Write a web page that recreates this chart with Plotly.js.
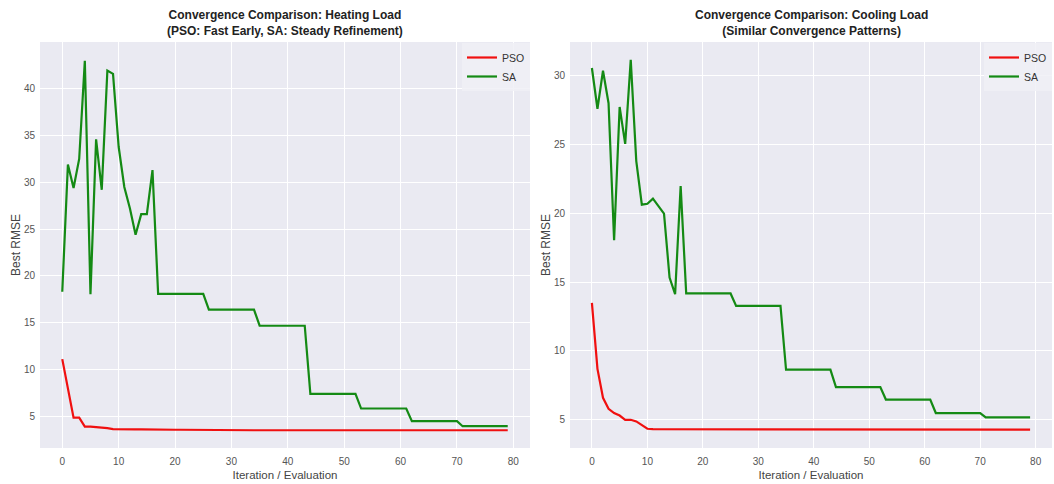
<!DOCTYPE html>
<html>
<head>
<meta charset="utf-8">
<script src="https://cdn.plot.ly/plotly-3.0.1.min.js"></script>
<style>html,body{margin:0;padding:0;background:#fff;}#chart{width:1054px;height:484px;}</style>
</head>
<body>
<div id="chart"></div>
<script>
// ---- data ----
const iterations = Array.from({length: 80}, (_, i) => i);

const heatPSO = [11.1, 8.1, 4.85, 4.85, 3.88, 3.88, 3.85, 3.75, 3.72, 3.62,
  3.6, 3.6, 3.6, 3.6, 3.6, 3.58, 3.58, 3.57, 3.57, 3.56,
  3.55, 3.55, 3.54, 3.53, 3.52, 3.51, 3.5, 3.5, 3.5, 3.5,
  3.5, 3.5, 3.5, 3.5, 3.5, 3.5, 3.5, 3.5, 3.5, 3.5,
  3.5, 3.5, 3.5, 3.5, 3.5, 3.5, 3.5, 3.5, 3.5, 3.5,
  3.5, 3.5, 3.5, 3.5, 3.5, 3.5, 3.5, 3.5, 3.5, 3.5,
  3.5, 3.5, 3.5, 3.5, 3.5, 3.5, 3.5, 3.5, 3.5, 3.5,
  3.5, 3.5, 3.5, 3.5, 3.5, 3.5, 3.5, 3.5, 3.5, 3.5];

const heatSA = [18.3, 31.9, 29.4, 32.5, 43.0, 18.05, 34.6, 29.2, 41.95, 41.6,
  33.8, 29.5, 27.2, 24.4, 26.6, 26.6, 31.3, 18.08, 18.08, 18.08,
  18.08, 18.08, 18.08, 18.08, 18.08, 18.08, 16.4, 16.4, 16.4, 16.4,
  16.4, 16.4, 16.4, 16.4, 16.4, 14.67, 14.67, 14.67, 14.67, 14.67,
  14.67, 14.67, 14.67, 14.67, 7.39, 7.39, 7.39, 7.39, 7.39, 7.39,
  7.39, 7.39, 7.39, 5.82, 5.82, 5.82, 5.82, 5.82, 5.82, 5.82,
  5.82, 5.82, 4.47, 4.47, 4.47, 4.47, 4.47, 4.47, 4.47, 4.47,
  4.47, 3.93, 3.93, 3.93, 3.93, 3.93, 3.93, 3.93, 3.93, 3.93];

const coolPSO = [13.5, 8.7, 6.6, 5.8, 5.49, 5.31, 5.0, 5.0, 4.88, 4.59,
  4.35, 4.32, 4.32, 4.31, 4.31, 4.31, 4.3, 4.3, 4.3, 4.3,
  4.29, 4.29, 4.29, 4.29, 4.28, 4.28, 4.28, 4.28, 4.28, 4.28,
  4.28, 4.28, 4.28, 4.28, 4.28, 4.28, 4.28, 4.28, 4.28, 4.28,
  4.28, 4.28, 4.28, 4.28, 4.28, 4.28, 4.28, 4.28, 4.28, 4.28,
  4.28, 4.28, 4.28, 4.28, 4.28, 4.28, 4.28, 4.28, 4.28, 4.28,
  4.28, 4.28, 4.28, 4.28, 4.28, 4.28, 4.28, 4.28, 4.28, 4.28,
  4.28, 4.28, 4.28, 4.28, 4.28, 4.28, 4.28, 4.28, 4.28, 4.28];

const coolSA = [30.56, 27.6, 30.36, 28.0, 18.04, 27.73, 25.05, 31.16, 23.8, 20.63,
  20.7, 21.07, 20.53, 19.98, 15.34, 14.13, 21.98, 14.18, 14.18, 14.18,
  14.18, 14.18, 14.18, 14.18, 14.18, 14.18, 13.28, 13.28, 13.28, 13.28,
  13.28, 13.28, 13.28, 13.28, 13.28, 8.64, 8.64, 8.64, 8.64, 8.64,
  8.64, 8.64, 8.64, 8.64, 7.37, 7.37, 7.37, 7.37, 7.37, 7.37,
  7.37, 7.37, 7.37, 6.47, 6.47, 6.47, 6.47, 6.47, 6.47, 6.47,
  6.47, 6.47, 5.49, 5.49, 5.49, 5.49, 5.49, 5.49, 5.49, 5.49,
  5.49, 5.17, 5.17, 5.17, 5.17, 5.17, 5.17, 5.17, 5.17, 5.17];

const xTicks = [0, 10, 20, 30, 40, 50, 60, 70, 80];
const heatYTicks = [5, 10, 15, 20, 25, 30, 35, 40];
const coolYTicks = [5, 10, 15, 20, 25, 30];
const titles = [
  'Convergence Comparison: Heating Load<br>(PSO: Fast Early, SA: Steady Refinement)',
  'Convergence Comparison: Cooling Load<br>(Similar Convergence Patterns)'
];

// ---- figure ----
const W = 1054, H = 484;
const FONT = 'Liberation Sans, Arial, sans-serif';
const RED = '#f01010', GREEN = '#148a14';

function line(x, y, name, color, xa, ya, leg) {
  return {x: x, y: y, name: name, type: 'scatter', mode: 'lines',
    line: {color: color, width: 2.2}, xaxis: xa, yaxis: ya, legend: leg};
}

const traces = [
  line(iterations, heatPSO, 'PSO', RED, 'x', 'y', 'legend'),
  line(iterations, heatSA, 'SA', GREEN, 'x', 'y', 'legend'),
  line(iterations, coolPSO, 'PSO', RED, 'x2', 'y2', 'legend2'),
  line(iterations, coolSA, 'SA', GREEN, 'x2', 'y2', 'legend2')
];

const yDom = [(H - 448) / H, (H - 42) / H];
function xAxis(dom) {
  return {domain: dom, range: [-3.95, 82.95], tickvals: xTicks,
    showgrid: true, gridcolor: '#ffffff', gridwidth: 1, zeroline: false,
    showline: false, ticks: '', ticklabelstandoff: 6,
    tickfont: {family: FONT, size: 10, color: '#555555'},
    title: {text: 'Iteration / Evaluation', standoff: 4, font: {family: FONT, size: 11.5, color: '#444444'}}};
}
function yAxis(anchor, range, ticks) {
  return {domain: yDom, range: range, tickvals: ticks, anchor: anchor,
    showgrid: true, gridcolor: '#ffffff', gridwidth: 1, zeroline: false,
    showline: false, ticks: '', ticklabelstandoff: 4,
    tickfont: {family: FONT, size: 10, color: '#555555'},
    title: {text: 'Best RMSE', standoff: 0, font: {family: FONT, size: 12, color: '#444444'}}};
}
function legend(xr) {
  return {x: xr / W, y: (H - 43) / H, xanchor: 'right', yanchor: 'top',
    bgcolor: 'rgba(240,240,246,0.85)', borderwidth: 0,
    font: {family: FONT, size: 10.5, color: '#333333'}, itemwidth: 30, tracegroupgap: 0};
}

const layout = {
  width: W, height: H,
  margin: {l: 0, r: 0, t: 0, b: 0},
  paper_bgcolor: '#ffffff', plot_bgcolor: '#EAEAF2',
  showlegend: true,
  xaxis: xAxis([40 / W, 530 / W]),
  yaxis: yAxis('x', [1.6, 45.0], heatYTicks),
  xaxis2: xAxis([570 / W, 1052 / W]),
  yaxis2: yAxis('x2', [2.95, 32.45], coolYTicks),
  legend: legend(530),
  legend2: legend(1052),
  annotations: [
    {text: '<b>' + titles[0] + '</b>', x: 285 / W, y: (H - 6) / H, xref: 'paper', yref: 'paper',
     xanchor: 'center', yanchor: 'top', showarrow: false, align: 'center',
     font: {family: FONT, size: 12, color: '#222222'}},
    {text: '<b>' + titles[1] + '</b>', x: 811 / W, y: (H - 6) / H, xref: 'paper', yref: 'paper',
     xanchor: 'center', yanchor: 'top', showarrow: false, align: 'center',
     font: {family: FONT, size: 12, color: '#222222'}}
  ]
};

Plotly.newPlot('chart', traces, layout, {displayModeBar: false, staticPlot: true});
</script>
</body>
</html>
